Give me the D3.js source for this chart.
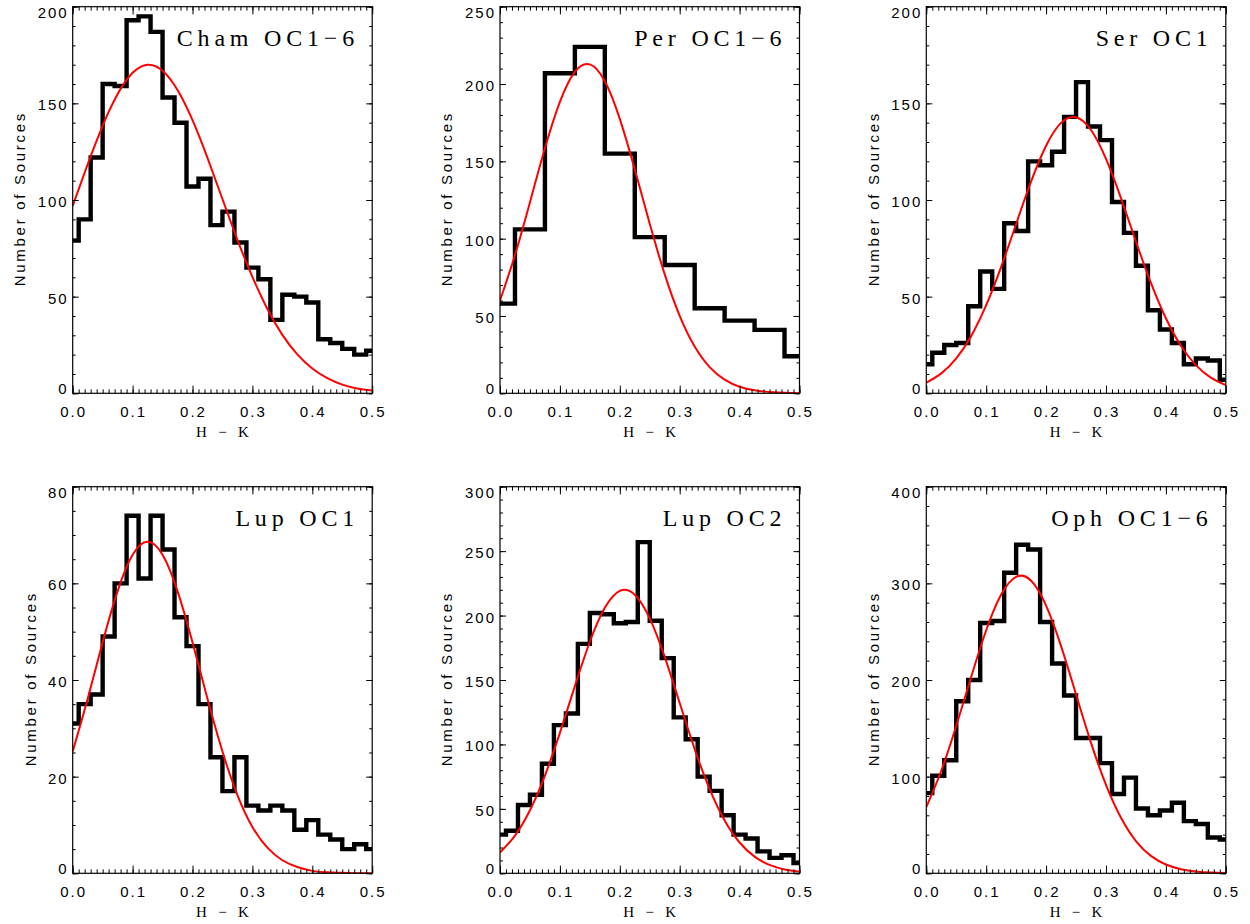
<!DOCTYPE html>
<html>
<head>
<meta charset="utf-8">
<script src="https://cdn.jsdelivr.net/npm/d3@7"></script>
<style>
  html, body { margin: 0; padding: 0; background: #ffffff; }
  svg { display: block; }
</style>
</head>
<body>
<svg id="chart" width="1250" height="924"></svg>
<script>
// ---- H-K bin centres -------------------------------------------------------
const hkFine   = [0.00, 0.02, 0.04, 0.06, 0.08, 0.10, 0.12, 0.14, 0.16, 0.18, 0.20, 0.22, 0.24,
                  0.26, 0.28, 0.30, 0.32, 0.34, 0.36, 0.38, 0.40, 0.42, 0.44, 0.46, 0.48, 0.50];
const hkCoarse = [0.00, 0.05, 0.10, 0.15, 0.20, 0.25, 0.30, 0.35, 0.40, 0.45, 0.50];
const hkFit    = [0.000, 0.025, 0.050, 0.075, 0.100, 0.125, 0.150, 0.175, 0.200, 0.225, 0.250,
                  0.275, 0.300, 0.325, 0.350, 0.375, 0.400, 0.425, 0.450, 0.475, 0.500];

// ---- x axis ticks ---------------------------------------------------------
const xTickValues = [0.0, 0.1, 0.2, 0.3, 0.4, 0.5];
const xTickLabels = ["0.0", "0.1", "0.2", "0.3", "0.4", "0.5"];

// ---- panel titles ---------------------------------------------------------
const panelTitles = ["Cham OC1\u22126", "Per OC1\u22126", "Ser OC1", "Lup OC1", "Lup OC2", "Oph OC1\u22126"];

// ---- histogram counts -----------------------------------------------------
const chamCounts   = [79, 90, 122, 160, 159, 193, 195, 187, 153, 140, 107, 111, 87,
                      94, 78, 65, 59, 38, 51, 50, 47, 28, 26, 23, 20, 22];
const perCounts    = [58, 106, 207, 224, 155, 101, 83, 55, 47, 41, 24];
const serCounts    = [15, 21, 25, 26, 45, 63, 54, 88, 84, 120, 118, 125, 143,
                      161, 138, 131, 99, 83, 66, 43, 33, 26, 15, 18, 17, 7];
const lupOC1Counts = [31, 35, 37, 49, 60, 74, 61, 74, 67, 53, 47, 35, 24,
                      17, 24, 14, 13, 14, 13, 9, 11, 8, 7, 5, 6, 5];
const lupOC2Counts = [30, 33, 53, 61, 85, 115, 124, 178, 202, 201, 194, 195, 257,
                      196, 167, 121, 104, 75, 64, 45, 30, 27, 17, 12, 14, 8];
const ophCounts    = [83, 101, 117, 178, 200, 259, 261, 311, 340, 335, 260, 217, 184,
                      140, 140, 114, 82, 99, 67, 60, 65, 73, 54, 51, 37, 35];

// ---- Gaussian fit curves (sampled) ----------------------------------------
const chamFit   = [97, 118.5, 138.4, 154.8, 165.8, 170, 166.9, 156.9, 141.3, 121.8, 100.5,
                   79.4, 60.2, 43.6, 30.2, 20.1, 12.8, 7.8, 4.5, 2.5, 1.4];
const perFit    = [60.0, 89.4, 123.6, 158.5, 188.5, 207.9, 212.7, 201.8, 177.5, 144.8, 109.6,
                   76.9, 50.1, 30.2, 16.9, 8.8, 4.2, 1.9, 0.8, 0.3, 0.1];
const serFit    = [5.5, 10.3, 18.1, 29.7, 45.6, 65.4, 87.6, 109.6, 128.1, 139.9, 142.8,
                   136.2, 121.3, 101.0, 78.5, 57.1, 38.8, 24.6, 14.6, 8.1, 4.2];
const lupOC1Fit = [25.2, 36.1, 47.8, 58.4, 65.9, 68.6, 65.9, 58.4, 47.8, 36.1, 25.2,
                   16.2, 9.6, 5.3, 2.7, 1.3, 0.5, 0.2, 0.1, 0.0, 0.0];
const lupOC2Fit = [16.2, 29.3, 48.9, 75.8, 109.0, 145.3, 179.7, 206.0, 219.2, 216.2, 197.8,
                   167.9, 132.1, 96.4, 65.3, 41.0, 23.9, 12.9, 6.5, 3.0, 1.3];
const ophFit    = [68.5, 106.1, 152.6, 203.4, 251.5, 288.4, 306.8, 302.7, 277.0, 235.0, 185.0,
                   135.0, 91.4, 57.4, 33.4, 18.0, 9.1, 4.2, 1.8, 0.7, 0.3];

// ---- y axis ticks per panel -----------------------------------------------
const chamYTicks   = [0, 50, 100, 150, 200];
const perYTicks    = [0, 50, 100, 150, 200, 250];
const serYTicks    = [0, 50, 100, 150, 200];
const lupOC1YTicks = [0, 20, 40, 60, 80];
const lupOC2YTicks = [0, 50, 100, 150, 200, 250, 300];
const ophYTicks    = [0, 100, 200, 300, 400];
// number of minor intervals over the full y range
const yMinorCounts = [20, 25, 20, 16, 30, 20];

const panels = [
  { title: panelTitles[0], bins: hkFine,   counts: chamCounts,   fit: chamFit,   yTicks: chamYTicks,   minor: yMinorCounts[0] },
  { title: panelTitles[1], bins: hkCoarse, counts: perCounts,    fit: perFit,    yTicks: perYTicks,    minor: yMinorCounts[1] },
  { title: panelTitles[2], bins: hkFine,   counts: serCounts,    fit: serFit,    yTicks: serYTicks,    minor: yMinorCounts[2] },
  { title: panelTitles[3], bins: hkFine,   counts: lupOC1Counts, fit: lupOC1Fit, yTicks: lupOC1YTicks, minor: yMinorCounts[3] },
  { title: panelTitles[4], bins: hkFine,   counts: lupOC2Counts, fit: lupOC2Fit, yTicks: lupOC2YTicks, minor: yMinorCounts[4] },
  { title: panelTitles[5], bins: hkFine,   counts: ophCounts,    fit: ophFit,    yTicks: ophYTicks,    minor: yMinorCounts[5] }
];

// ---- layout ---------------------------------------------------------------
const colLeft = [72.7, 500, 926.3];
const rowTop  = [6.7, 486.7];
const plotW = 299.5, plotH = 386.6;
const sansFont  = "'Liberation Sans', Arial, Helvetica, sans-serif";
const serifFont = "'Liberation Serif', 'Times New Roman', serif";

const svg = d3.select("#chart");
svg.append("rect").attr("width", 1250).attr("height", 924).attr("fill", "#ffffff");
const defs = svg.append("defs");

panels.forEach((p, i) => {
  const x0 = colLeft[i % 3];
  const y0 = rowTop[Math.floor(i / 3)];
  const yMax = p.yTicks[p.yTicks.length - 1];

  const x = d3.scaleLinear().domain([0, 0.5]).range([x0, x0 + plotW]);
  const y = d3.scaleLinear().domain([0, yMax]).range([y0 + plotH, y0]);

  const g = svg.append("g").attr("class", "panel");

  defs.append("clipPath").attr("id", "clip" + i)
    .append("rect").attr("x", x0).attr("y", y0).attr("width", plotW).attr("height", plotH);

  // histogram (step at bin edges, midway between centres)
  g.append("path")
    .datum(p.bins.map((b, k) => [b, p.counts[k]]))
    .attr("clip-path", `url(#clip${i})`)
    .attr("d", d3.line().x(d => x(d[0])).y(d => y(d[1])).curve(d3.curveStep))
    .attr("fill", "none")
    .attr("stroke", "#000000")
    .attr("stroke-width", 4.4)
    .attr("stroke-linejoin", "miter");

  // Gaussian fit
  g.append("path")
    .datum(hkFit.map((h, k) => [h, p.fit[k]]))
    .attr("clip-path", `url(#clip${i})`)
    .attr("d", d3.line().x(d => x(d[0])).y(d => y(d[1])).curve(d3.curveNatural))
    .attr("fill", "none")
    .attr("stroke", "#ff0000")
    .attr("stroke-width", 2);

  // tick marks (all inward)
  const xMajorLen = 7.7, xMinorLen = 3.9, yMajorLen = 6, yMinorLen = 3;
  const xMinor = x.ticks(50);
  const yMinor = y.ticks(p.minor);

  const axes = [
    [d3.axisBottom(x).tickValues(xMinor).tickSize(-xMinorLen), `translate(0,${y0 + plotH})`],
    [d3.axisBottom(x).tickValues(xTickValues).tickSize(-xMajorLen), `translate(0,${y0 + plotH})`],
    [d3.axisTop(x).tickValues(xMinor).tickSize(-xMinorLen), `translate(0,${y0})`],
    [d3.axisTop(x).tickValues(xTickValues).tickSize(-xMajorLen), `translate(0,${y0})`],
    [d3.axisLeft(y).tickValues(yMinor).tickSize(-yMinorLen), `translate(${x0},0)`],
    [d3.axisLeft(y).tickValues(p.yTicks).tickSize(-yMajorLen), `translate(${x0},0)`],
    [d3.axisRight(y).tickValues(yMinor).tickSize(-yMinorLen), `translate(${x0 + plotW},0)`],
    [d3.axisRight(y).tickValues(p.yTicks).tickSize(-yMajorLen), `translate(${x0 + plotW},0)`]
  ];
  axes.forEach(([ax, tr]) => {
    const a = g.append("g").attr("transform", tr).call(ax.tickFormat(""));
    a.select(".domain").remove();
    a.selectAll(".tick line").attr("stroke", "#000").attr("stroke-width", 1);
    a.selectAll(".tick text").remove();
  });

  // frame
  g.append("rect")
    .attr("x", x0).attr("y", y0).attr("width", plotW).attr("height", plotH)
    .attr("fill", "none").attr("stroke", "#000").attr("stroke-width", 1.2);

  // x tick labels
  const xLabLS = 2;
  g.selectAll("text.xtl").data(xTickValues).enter().append("text")
    .attr("class", "xtl")
    .attr("x", d => x(d) + xLabLS / 2)
    .attr("y", y0 + plotH + 24)
    .attr("text-anchor", "middle")
    .style("font-family", sansFont).style("font-size", "15px").style("letter-spacing", xLabLS + "px")
    .attr("fill", "#000")
    .text((d, k) => xTickLabels[k]);

  // y tick labels
  const n = p.yTicks.length;
  const yLabs = g.append("g");
  yLabs.selectAll("text").data(p.yTicks).enter().append("text")
    .attr("x", x0 - 6 + xLabLS)
    .attr("y", (d, k) => y(d) + (k === 0 ? 0.5 : (k === n - 1 ? 11.5 : 7)))
    .attr("text-anchor", "end")
    .style("font-family", sansFont).style("font-size", "15px").style("letter-spacing", xLabLS + "px")
    .attr("fill", "#000")
    .text(d => String(d));

  const labLeft = yLabs.node().getBBox().x + xLabLS;

  // y axis title
  const cy = y0 + plotH / 2;
  const lx = labLeft - 19.5 + 5;
  g.append("text")
    .attr("transform", `translate(${lx},${cy}) rotate(-90)`)
    .attr("x", 1.35)
    .attr("text-anchor", "middle")
    .style("font-family", sansFont).style("font-size", "15px").style("letter-spacing", "2.7px")
    .attr("fill", "#000")
    .text("Number of Sources");

  // x axis title
  g.append("text")
    .attr("x", x0 + plotW / 2 + 1.9)
    .attr("y", y0 + plotH + 44)
    .attr("text-anchor", "middle")
    .style("font-family", serifFont).style("font-size", "15px").style("letter-spacing", "3.8px")
    .attr("fill", "#000")
    .text("H \u2212 K");

  // panel title
  g.append("text")
    .attr("x", x0 + plotW - 18 + 4.8)
    .attr("y", y0 + 39.5)
    .attr("text-anchor", "end")
    .style("font-family", serifFont).style("font-size", "24px").style("letter-spacing", "4.8px")
    .attr("fill", "#000")
    .text(p.title);
});
</script>
</body>
</html>
